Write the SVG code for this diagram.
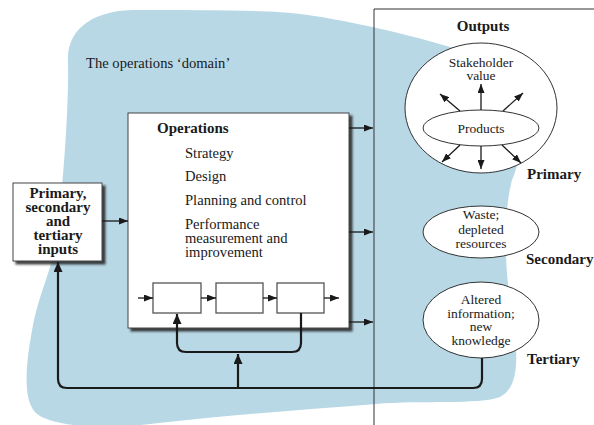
<svg xmlns="http://www.w3.org/2000/svg" width="594" height="425" viewBox="0 0 594 425">
<defs>
<filter id="sh" x="-10%" y="-10%" width="130%" height="130%">
<feDropShadow dx="3" dy="3" stdDeviation="1.3" flood-color="#1a1a1a" flood-opacity="0.85"/>
</filter>
<marker id="ah" markerUnits="userSpaceOnUse" markerWidth="9" markerHeight="7" refX="9" refY="3.5" orient="auto">
<path d="M0,0 L9,3.5 L0,7 Z" fill="#1a1a1a"/>
</marker>
<marker id="ahb" markerUnits="userSpaceOnUse" markerWidth="10" markerHeight="9" refX="10" refY="4.5" orient="auto">
<path d="M0,0 L10,4.5 L0,9 Z" fill="#1a1a1a"/>
</marker>
</defs>
<style>
text{font-family:"Liberation Serif","Times New Roman",serif;fill:#1a1a1a}
.r{font-size:14.6px}
.e{font-size:13.5px;text-anchor:middle}
.b{font-size:15px;font-weight:bold}
.bc{font-size:15px;font-weight:bold;text-anchor:middle}
.ln{fill:none;stroke:#1a1a1a;stroke-width:1.3}
.tk{fill:none;stroke:#1a1a1a;stroke-width:2.2}
.box{fill:#fff;stroke:#444;stroke-width:1}
.sm{fill:#fff;stroke:#555;stroke-width:1.3}
.el{fill:#fff;stroke:#333;stroke-width:1}
</style>
<rect width="594" height="425" fill="#fff"/>
<path id="domain" d="M68,62 C66,28 95,10 135,10 C200,10 270,10 300,14 C340,19 400,32 450,47 C520,70 530,140 512,180 C504,210 504,260 510,300 C516,340 524,385 500,397 C480,405 420,400 376,404 C300,410 230,415 150,424 C110,429 50,428 35,412 C22,398 26,360 34,320 C42,285 54,265 58,230 C63,180 69,110 68,62 Z" fill="#b8d8e6"/>
<text class="r" x="86" y="68">The operations ‘domain’</text>
<path id="outputs-frame" d="M374,425 V9 H594" fill="none" stroke="#333" stroke-width="1"/>
<text class="bc" x="483" y="31">Outputs</text>
<g id="operations">
<rect class="box" x="128" y="113" width="221" height="215" filter="url(#sh)"/>
<text class="b" x="157" y="133">Operations</text>
<text class="r" x="185" y="158">Strategy</text>
<text class="r" x="185" y="181">Design</text>
<text class="r" x="185" y="205">Planning and control</text>
<text class="r" x="185" y="229">Performance</text>
<text class="r" x="185" y="243">measurement and</text>
<text class="r" x="185" y="257">improvement</text>
</g>
<g id="step1"><rect class="sm" x="153" y="283" width="48" height="30"/></g>
<g id="step2"><rect class="sm" x="216" y="283" width="47" height="30"/></g>
<g id="step3"><rect class="sm" x="277" y="283" width="47" height="30"/></g>
<g id="inputs">
<rect class="box" x="13" y="183" width="89" height="78" filter="url(#sh)"/>
<text class="bc" x="58" y="198">Primary,</text>
<text class="bc" x="58" y="212">secondary</text>
<text class="bc" x="58" y="226">and</text>
<text class="bc" x="58" y="240">tertiary</text>
<text class="bc" x="58" y="254">inputs</text>
</g>
<g id="primary">
<ellipse class="el" cx="481" cy="108" rx="76" ry="65"/>
<text class="e" x="481" y="67">Stakeholder</text>
<text class="e" x="481" y="80">value</text>
<ellipse class="el" cx="481" cy="128" rx="58" ry="18"/>
<text class="e" x="481" y="133">Products</text>
<text class="b" x="527" y="179">Primary</text>
</g>
<g id="secondary">
<ellipse class="el" cx="481" cy="232" rx="58" ry="26"/>
<text class="e" x="481" y="219">Waste;</text>
<text class="e" x="481" y="234">depleted</text>
<text class="e" x="481" y="248">resources</text>
<text class="b" x="526" y="264">Secondary</text>
</g>
<g id="tertiary">
<ellipse class="el" cx="481" cy="320" rx="58" ry="38"/>
<text class="e" x="481" y="304">Altered</text>
<text class="e" x="481" y="318">information;</text>
<text class="e" x="481" y="331">new</text>
<text class="e" x="481" y="345">knowledge</text>
<text class="b" x="527" y="364">Tertiary</text>
</g>
<g id="connectors">
<line class="ln" x1="102" y1="221" x2="128" y2="221" marker-end="url(#ah)"/>
<line class="ln" x1="349" y1="128" x2="373" y2="128" marker-end="url(#ah)"/>
<line class="ln" x1="349" y1="232" x2="373" y2="232" marker-end="url(#ah)"/>
<line class="ln" x1="349" y1="322" x2="373" y2="322" marker-end="url(#ah)"/>
<line class="ln" x1="138" y1="298" x2="153" y2="298" marker-end="url(#ah)"/>
<line class="ln" x1="201" y1="298" x2="216" y2="298" marker-end="url(#ah)"/>
<line class="ln" x1="263" y1="298" x2="277" y2="298" marker-end="url(#ah)"/>
<line class="ln" x1="324" y1="298" x2="339" y2="298" marker-end="url(#ah)"/>
<line class="ln" x1="481" y1="110" x2="481" y2="84" marker-end="url(#ah)"/>
<line class="ln" x1="460" y1="111" x2="440" y2="94" marker-end="url(#ah)"/>
<line class="ln" x1="503" y1="111" x2="523" y2="93" marker-end="url(#ah)"/>
<line class="ln" x1="481" y1="146" x2="481" y2="169" marker-end="url(#ah)"/>
<line class="ln" x1="460" y1="145" x2="442" y2="162" marker-end="url(#ah)"/>
<line class="ln" x1="502" y1="145" x2="521" y2="163" marker-end="url(#ah)"/>
<path class="tk" d="M301,313 V343 Q301,352 292,352 H186 Q177,352 177,343 V314" marker-end="url(#ahb)"/>
<path class="tk" d="M238,388 V354" marker-end="url(#ahb)"/>
<path class="tk" d="M482,358 V379 Q482,388 473,388 H67 Q58,388 58,379 V262" marker-end="url(#ahb)"/>
</g>
</svg>
